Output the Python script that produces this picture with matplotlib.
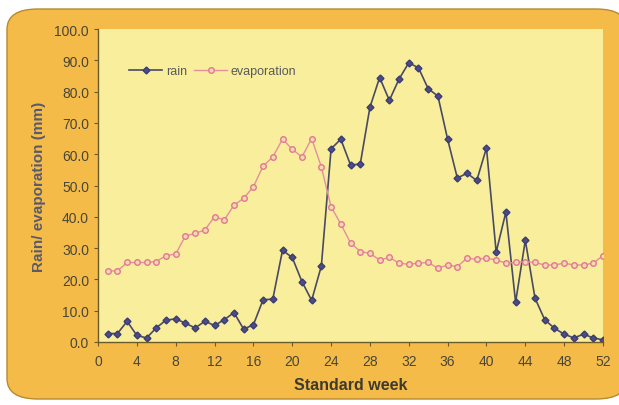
import numpy as np
import matplotlib
matplotlib.use("Agg")
import matplotlib.pyplot as plt
from matplotlib.patches import FancyBboxPatch

weeks = np.arange(1, 53)

# weekly rain (mm)
rain = [2.7, 2.7, 6.6, 2.1, 1.3, 4.5, 7.0, 7.4, 6.0, 4.5,
        6.6, 5.3, 7.1, 9.4, 4.1, 5.5, 13.5, 13.7, 29.3, 27.0,
        19.3, 13.3, 24.3, 61.7, 64.8, 56.6, 56.8, 75.0, 84.5, 77.2,
        84.0, 89.2, 87.6, 80.9, 78.6, 64.8, 52.4, 53.9, 51.6, 62.0,
        28.7, 41.5, 12.7, 32.5, 14.0, 7.1, 4.4, 2.5, 1.3, 2.5,
        1.3, 0.7]

# weekly evaporation (mm)
evaporation = [22.7, 22.7, 25.4, 25.4, 25.4, 25.7, 27.6, 28.1, 33.9, 34.7,
               35.8, 40.0, 39.0, 43.7, 45.9, 49.6, 56.2, 59.1, 64.8, 61.6,
               59.1, 65.0, 55.9, 43.2, 37.7, 31.7, 28.9, 28.3, 26.2, 27.0,
               25.2, 24.8, 25.2, 25.4, 23.6, 24.6, 24.1, 26.8, 26.4, 26.8,
               26.2, 25.2, 25.4, 25.7, 25.4, 24.6, 24.6, 25.2, 24.6, 24.6,
               25.2, 27.6]

x_ticks = np.arange(0, 53, 4)
y_ticks = np.arange(0, 101, 10)

plt.rcParams["font.family"] = ["Liberation Sans", "DejaVu Sans"]

fig = plt.figure(figsize=(6.19, 4.06), dpi=100)
fig.patch.set_facecolor("white")

# orange rounded panel behind the chart
panel = FancyBboxPatch((7 / 619, 6 / 406), 620 / 619, 390 / 406,
                       boxstyle="round,pad=0,rounding_size=0.05",
                       transform=fig.transFigure, facecolor="#f4bb48",
                       edgecolor="#b88a30", linewidth=1.0, zorder=-10)
fig.patches.append(panel)

ax = fig.add_axes([98 / 619, 1 - 343 / 406, (603 - 98) / 619, (343 - 30) / 406])
ax.set_zorder(1)
ax.set_facecolor("#f8ee9c")

ax.plot(weeks, rain, color="#4a4a62", linewidth=1.2, marker="D", markersize=3.5,
        markerfacecolor="#4c4c8c", markeredgecolor="#3c3c6c", label="rain")
ax.plot(weeks, evaporation, color="#e58ea0", linewidth=1.0, marker="o", markersize=4,
        markerfacecolor="#f6d8b0", markeredgecolor="#e07890", label="evaporation")

ax.set_xlim(0, 52)
ax.set_ylim(0, 100)
ax.set_xticks(x_ticks)
ax.set_yticks(y_ticks)
ax.set_yticklabels(["%.1f" % v for v in y_ticks])

txt = "#4a4636"
ax.tick_params(axis="both", colors="#6b5a2a", labelcolor=txt, labelsize=10,
               direction="out", length=3)
ax.tick_params(axis="x", pad=6)
for side in ["top", "right"]:
    ax.spines[side].set_visible(False)
for side in ["left", "bottom"]:
    ax.spines[side].set_color("#6b5a2a")
    ax.spines[side].set_linewidth(1.0)

ax.set_xlabel("Standard week", fontsize=11.5, fontweight="bold", color="#3e3a30", labelpad=6)
ax.set_ylabel("Rain/ evaporation (mm)", fontsize=11, fontweight="bold", color="#5a5a6a", labelpad=6)

ax.legend(loc="upper left", bbox_to_anchor=(0.04, 0.92), ncol=2, frameon=False,
          fontsize=9, handlelength=2.6, columnspacing=0.6, handletextpad=0.3,
          labelcolor="#5a5a5a")

fig.savefig("out.png", dpi=100, facecolor=fig.get_facecolor())
